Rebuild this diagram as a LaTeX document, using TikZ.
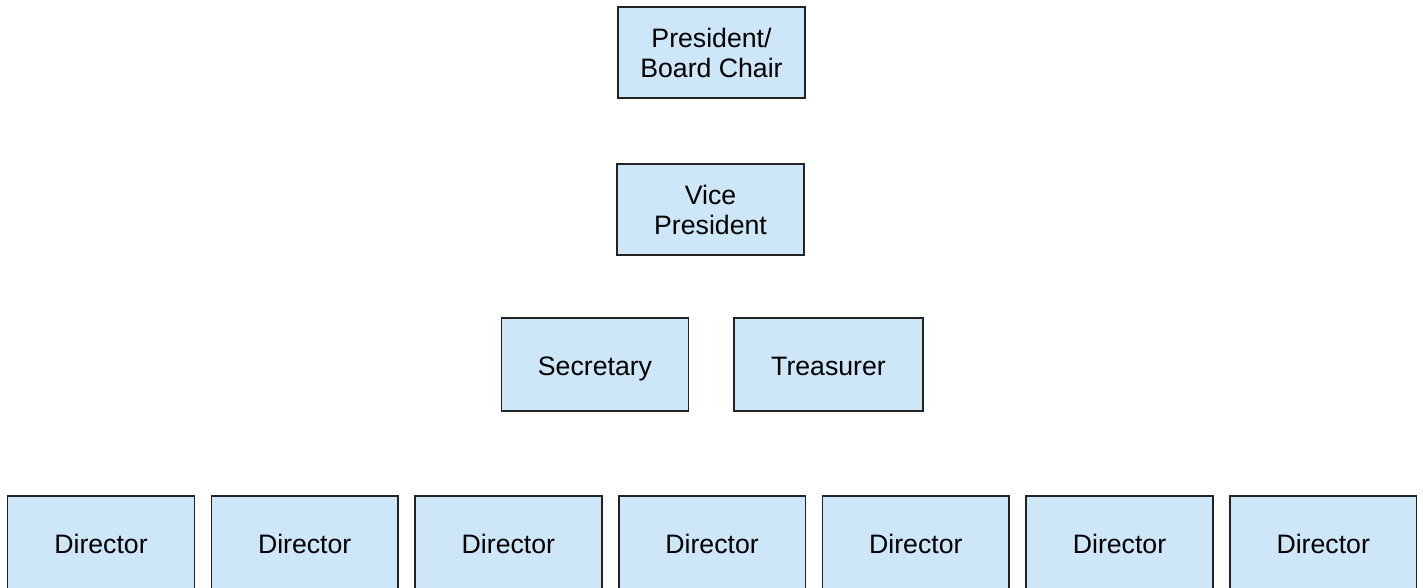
\documentclass[tikz,border=0pt]{standalone}
\usepackage{fontspec}
\setmainfont{Liberation Sans}
\usetikzlibrary{positioning}
\definecolor{boxblue}{RGB}{205,230,248}
\definecolor{boxline}{RGB}{35,35,35}

\tikzset{
  office/.style={draw=boxline, line width=1.2pt, fill=boxblue, inner sep=0pt,
    minimum width=140pt, minimum height=70pt, align=center,
    font=\fontsize{20}{22.5}\selectfont},
  oneline/.style={office, text height=17pt, text depth=0pt}
}

\begin{document}
\begin{tikzpicture}[x=0.75pt, y=-0.75pt]
\useasboundingbox (0,0) rectangle (1423,588);

\node[office, minimum height=68.5pt] (pres) at (711.5,52.5) {President/\\Board Chair};
\node[office, minimum height=68.5pt] (vice) at (710.5,209.5) {Vice\\President};

\node[oneline] (sec) at (595,364.5) {Secretary};
\node[oneline, minimum width=142pt] (treas) at (828.5,364.5) {Treasurer};

\foreach \i in {0,...,6} {
  \node[oneline] (dir\i) at ({101+\i*203.7},542.5) {Director};
}

\end{tikzpicture}
\end{document}
